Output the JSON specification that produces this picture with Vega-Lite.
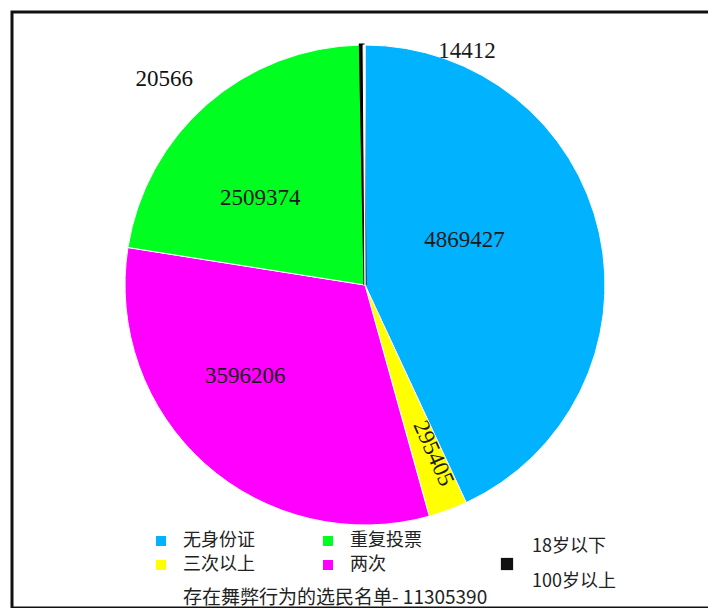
{
  "$schema": "https://vega.github.io/schema/vega-lite/v6.json",
  "width": 696,
  "height": 596,
  "autosize": "none",
  "padding": {"left": 12, "top": 12, "right": 0, "bottom": 0},
  "background": "white",
  "view": {"stroke": "#111111", "strokeWidth": 3, "strokeDash": [696, 596, 1292]},
  "config": {
    "style": {"view": {"stroke": "#111111", "strokeWidth": 3, "strokeDash": [696, 596, 1292]}},
    "legend": {
      "orient": "none",
      "symbolType": "square",
      "symbolStrokeWidth": 0,
      "labelFont": "Noto Sans CJK SC",
      "labelFontSize": 18,
      "labelColor": "#222222",
      "labelLimit": 400
    }
  },
  "title": {
    "text": "存在舞弊行为的选民名单- 11305390",
    "orient": "bottom",
    "frame": "group",
    "anchor": "start",
    "offset": -19,
    "dx": 171,
    "font": "Noto Sans CJK SC",
    "fontSize": 19,
    "fontWeight": "normal",
    "color": "#222222"
  },
  "data": {
    "values": [
      {"cat": "无身份证", "value": 4869427, "order": 1},
      {"cat": "三次以上", "value": 295405, "order": 2},
      {"cat": "两次", "value": 3596206, "order": 3},
      {"cat": "重复投票", "value": 2509374, "order": 4},
      {"cat": "18岁以下", "value": 20566, "order": 5},
      {"cat": "100岁以上", "value": 14412, "order": 6}
    ]
  },
  "layer": [
    {
      "mark": {"type": "arc", "outerRadius": 240, "xOffset": 5, "yOffset": -25},
      "encoding": {
        "theta": {"field": "value", "type": "quantitative", "stack": true},
        "order": {"field": "order", "type": "quantitative"},
        "stroke": {"condition": {"test": "datum.cat === '18岁以下'", "value": "#000000"}, "value": "#FFFFFF"},
        "strokeWidth": {"condition": {"test": "datum.cat === '18岁以下'", "value": 3}, "value": 1},
        "color": {
          "field": "cat",
          "type": "nominal",
          "scale": {
            "domain": ["无身份证", "重复投票", "三次以上", "两次", "18岁以下", "100岁以上"],
            "range": ["#00B2FF", "#00FF21", "#FFFF00", "#FF00FF", "#000000", "#FFFFFF"]
          },
          "legend": {
            "values": ["无身份证", "重复投票", "三次以上", "两次"],
            "columns": 2,
            "direction": "horizontal",
            "legendX": 140,
            "legendY": 520,
            "title": null,
            "columnPadding": 64,
            "rowPadding": 6,
            "labelOffset": 13,
            "symbolSize": 100
          }
        }
      }
    },
    {
      "mark": {"type": "text", "radius": 102, "dy": -23, "xOffset": 5, "yOffset": -25, "font": "Liberation Serif", "fontSize": 23, "color": "#1a1a1a"},
      "encoding": {
        "theta": {"field": "value", "type": "quantitative", "stack": true},
        "order": {"field": "order", "type": "quantitative"},
        "text": {"condition": {"test": "datum.cat === '无身份证'", "field": "value", "type": "quantitative", "format": "d"}, "value": ""}
      }
    },
    {
      "mark": {"type": "text", "radius": 182, "angle": 66, "dy": -6, "xOffset": 5, "yOffset": -25, "font": "Liberation Serif", "fontSize": 23, "color": "#1a1a1a"},
      "encoding": {
        "theta": {"field": "value", "type": "quantitative", "stack": true},
        "order": {"field": "order", "type": "quantitative"},
        "text": {"condition": {"test": "datum.cat === '三次以上'", "field": "value", "type": "quantitative", "format": "d"}, "value": ""}
      }
    },
    {
      "mark": {"type": "text", "radius": 150, "dx": -20, "dy": -21, "xOffset": 5, "yOffset": -25, "font": "Liberation Serif", "fontSize": 23, "color": "#1a1a1a"},
      "encoding": {
        "theta": {"field": "value", "type": "quantitative", "stack": true},
        "order": {"field": "order", "type": "quantitative"},
        "text": {"condition": {"test": "datum.cat === '两次'", "field": "value", "type": "quantitative", "format": "d"}, "value": ""}
      }
    },
    {
      "mark": {"type": "text", "radius": 135, "dx": -16, "dy": 15, "xOffset": 5, "yOffset": -25, "font": "Liberation Serif", "fontSize": 23, "color": "#1a1a1a"},
      "encoding": {
        "theta": {"field": "value", "type": "quantitative", "stack": true},
        "order": {"field": "order", "type": "quantitative"},
        "text": {"condition": {"test": "datum.cat === '重复投票'", "field": "value", "type": "quantitative", "format": "d"}, "value": ""}
      }
    },
    {
      "mark": {"type": "text", "radius": 206, "dx": -198, "xOffset": 5, "yOffset": -25, "font": "Liberation Serif", "fontSize": 23},
      "encoding": {
        "theta": {"field": "value", "type": "quantitative", "stack": true},
        "order": {"field": "order", "type": "quantitative"},
        "text": {"condition": {"test": "datum.cat === '18岁以下'", "field": "value", "type": "quantitative", "format": "d"}, "value": ""},
        "color": {
          "datum": "18岁以下",
          "type": "nominal",
          "scale": {"domain": ["18岁以下"], "range": ["#111111"]},
          "legend": {
            "legendX": 486,
            "legendY": 543,
            "title": null,
            "labelOffset": 16,
            "symbolSize": 150,
            "labelExpr": "['18岁以下', '100岁以上']",
            "encoding": {"labels": {"lineHeight": {"value": 35}, "dy": {"value": -17}}}
          }
        }
      }
    },
    {
      "mark": {"type": "text", "radius": 234, "dx": 103, "xOffset": 5, "yOffset": -25, "font": "Liberation Serif", "fontSize": 23, "color": "#1a1a1a"},
      "encoding": {
        "theta": {"field": "value", "type": "quantitative", "stack": true},
        "order": {"field": "order", "type": "quantitative"},
        "text": {"condition": {"test": "datum.cat === '100岁以上'", "field": "value", "type": "quantitative", "format": "d"}, "value": ""}
      }
    }
  ],
  "resolve": {"scale": {"color": "independent"}, "legend": {"color": "independent"}}
}
